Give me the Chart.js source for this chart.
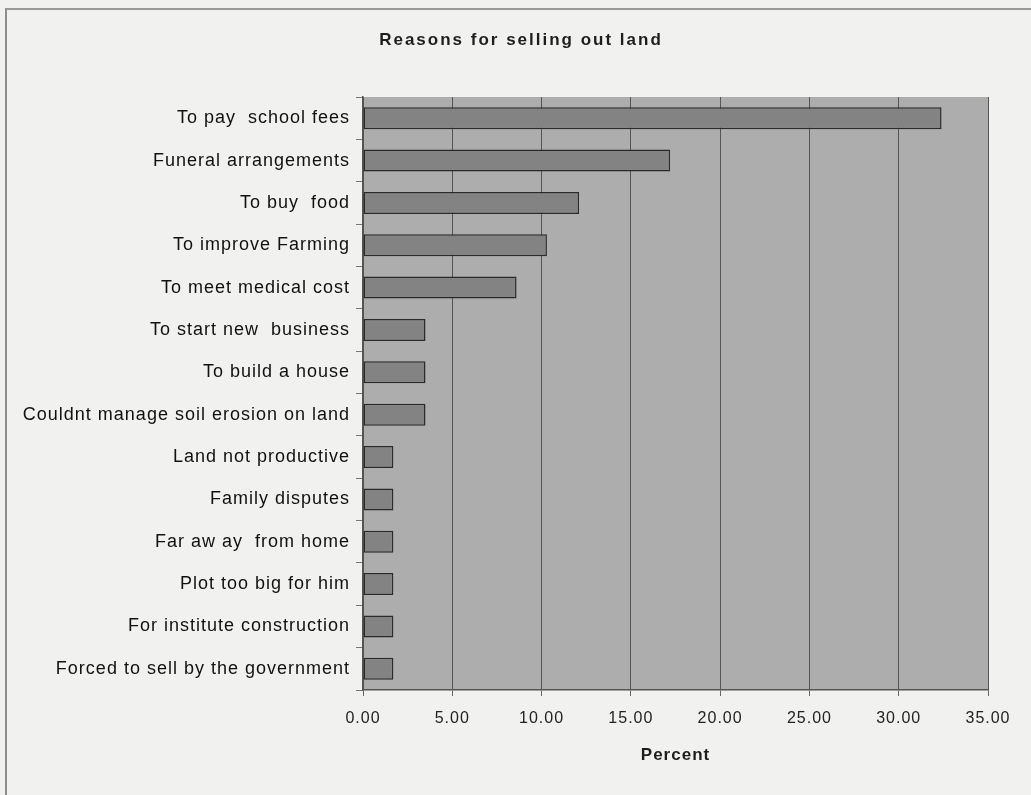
<!DOCTYPE html>
<html>
<head>
<meta charset="utf-8">
<script src="https://cdn.jsdelivr.net/npm/chart.js@4"></script>
<style>
  html, body { margin: 0; padding: 0; background: #f1f1f0; }
  #wrap { position: relative; width: 1031px; height: 795px; overflow: hidden; }
  #frame { position: absolute; left: 5px; top: 8px; width: 1100px; height: 900px;
           border-left: 2px solid #8e8e8e; border-top: 2px solid #9a9a9a; }
  canvas { position: absolute; left: 0; top: 0; }
</style>
</head>
<body>
<div id="wrap">
  <div id="frame"></div>
  <canvas id="reasonsChart" width="1031" height="795"></canvas>
</div>
<script>
// data (percent)
const reasons = [
  'To pay  school fees',
  'Funeral arrangements',
  'To buy  food',
  'To improve Farming',
  'To meet medical cost',
  'To start new  business',
  'To build a house',
  'Couldnt manage soil erosion on land',
  'Land not productive',
  'Family disputes',
  'Far aw ay  from home',
  'Plot too big for him',
  'For institute construction',
  'Forced to sell by the government'
];
const percent = [32.4, 17.2, 12.1, 10.3, 8.6, 3.5, 3.5, 3.5, 1.7, 1.7, 1.7, 1.7, 1.7, 1.7];
const xTicks = [0, 5, 10, 15, 20, 25, 30, 35];
const chartTitle = 'Reasons for selling out land';

const FONT = "'Liberation Sans', Arial, sans-serif";
const SPACING = '1px';

// grey plot background, wider lettering like the scan, and the title
// (drawn here because the original sits off-centre from the canvas)
const plotBg = {
  id: 'plotBg',
  beforeLayout(chart) { chart.ctx.letterSpacing = SPACING; },
  beforeDraw(chart) {
    const { ctx, chartArea: a } = chart;
    ctx.save();
    ctx.fillStyle = '#adadad';
    ctx.fillRect(a.left, a.top, a.right - a.left, a.bottom - a.top);
    ctx.restore();
    ctx.letterSpacing = SPACING;
  },
  afterDraw(chart) {
    const ctx = chart.ctx;
    ctx.save();
    ctx.letterSpacing = '2px';
    ctx.font = 'bold 17px ' + FONT;
    ctx.fillStyle = '#1e1e1e';
    ctx.textAlign = 'center';
    ctx.textBaseline = 'middle';
    ctx.fillText(chartTitle, 521, 40);
    ctx.restore();
  }
};

new Chart(document.getElementById('reasonsChart').getContext('2d'), {
  type: 'bar',
  data: {
    labels: reasons,
    datasets: [{
      data: percent,
      backgroundColor: '#838383',
      borderColor: '#2a2a2a',
      borderWidth: 1.5,
      borderSkipped: false,
      categoryPercentage: 1,
      barPercentage: 0.52
    }]
  },
  options: {
    indexAxis: 'y',
    responsive: false,
    animation: false,
    layout: { padding: { left: 0, right: 43, top: 97, bottom: 20 } },
    plugins: {
      legend: { display: false },
      tooltip: { enabled: false },
      title: { display: false }
    },
    scales: {
      x: {
        min: 0,
        max: 35,
        afterBuildTicks(scale) { scale.ticks = xTicks.map(v => ({ value: v })); },
        afterFit(scale) { scale.height = 85; },
        grid: { color: '#555', lineWidth: 1, tickLength: 6, tickColor: '#666' },
        border: { display: true, color: '#555', width: 1.5 },
        ticks: {
          color: '#222',
          padding: 13,
          maxRotation: 0,
          font: { family: FONT, size: 16 },
          callback: v => Number(v).toFixed(2)
        },
        title: {
          display: true,
          text: 'Percent',
          color: '#1e1e1e',
          font: { family: FONT, size: 17, weight: 'bold' },
          padding: { top: 6, bottom: 9 }
        }
      },
      y: {
        afterFit(scale) { scale.width = 363; },
        grid: { drawOnChartArea: false, tickLength: 7, color: '#777', offset: true },
        border: { display: true, color: '#555', width: 1.5 },
        ticks: {
          color: '#111',
          padding: 6,
          autoSkip: false,
          font: { family: FONT, size: 18 }
        }
      }
    }
  },
  plugins: [plotBg]
});
</script>
</body>
</html>
